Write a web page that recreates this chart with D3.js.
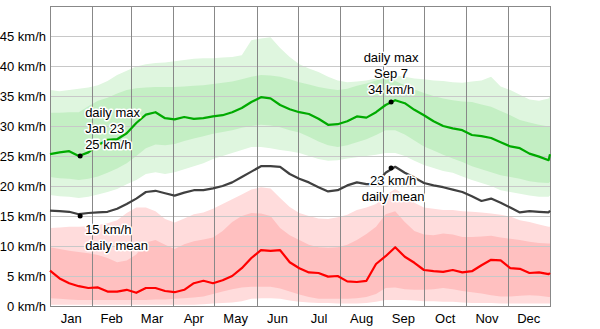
<!DOCTYPE html>
<html>
<head>
<meta charset="utf-8">
<script src="https://cdn.jsdelivr.net/npm/d3@7"></script>
<style>
  html, body { margin: 0; padding: 0; background: #fff; }
  svg { display: block; font-family: "Liberation Sans", Arial, sans-serif; font-size: 13px; }
  .halo { paint-order: stroke; stroke: #fff; stroke-width: 3px; stroke-linejoin: round; }
</style>
</head>
<body>
<svg id="chart" width="600" height="329"></svg>
<script>
'use strict'

// sampled every 7 days through the year, last point is Dec 31
var days = d3.range(0, 365, 7).concat([365])

var months = ['Jan', 'Feb', 'Mar', 'Apr', 'May', 'Jun', 'Jul', 'Aug', 'Sep', 'Oct', 'Nov', 'Dec']
var monthStarts = [0, 31, 59, 90, 120, 151, 181, 212, 243, 273, 304, 334, 365]
var yTicks = [0, 5, 10, 15, 20, 25, 30, 35, 40, 45]

// daily max wind speed (green)
var maxLine = [25.3, 25.6, 25.8, 25.0, 25.6, 26.8, 27.7, 27.8, 28.8, 30.5, 31.9, 32.3, 31.3, 31.1, 31.5, 31.2, 31.3, 31.6, 31.8, 32.3, 33.0, 34.0, 34.8, 34.6, 33.5, 32.8, 32.3, 32.0, 31.2, 30.2, 30.3, 30.8, 31.6, 31.4, 32.3, 33.5, 34.3, 33.8, 32.7, 31.8, 30.8, 30.0, 29.6, 29.3, 28.5, 28.3, 28.0, 27.3, 26.6, 26.3, 25.4, 24.9, 24.3, 25.3]
var maxP90 = [36.0, 35.8, 36.0, 36.2, 36.4, 36.8, 37.5, 38.5, 39.2, 39.9, 40.3, 40.5, 40.6, 40.8, 41.0, 41.2, 41.3, 41.3, 41.4, 41.5, 41.8, 44.3, 44.6, 44.8, 43.0, 41.5, 40.3, 39.6, 39.0, 38.2, 37.6, 37.3, 37.4, 37.6, 37.9, 38.2, 38.4, 38.2, 37.9, 37.8, 37.6, 37.5, 37.3, 37.2, 37.4, 37.6, 38.2, 36.6, 36.0, 35.2, 34.4, 34.2, 34.6, 35.0]
var maxP75 = [32.2, 32.2, 32.3, 32.3, 33.3, 34.2, 34.7, 35.4, 36.0, 36.3, 36.4, 36.5, 36.5, 36.5, 36.6, 36.7, 36.8, 37.0, 37.2, 37.4, 37.8, 38.2, 38.5, 38.4, 38.2, 37.8, 37.3, 36.9, 36.5, 36.2, 36.0, 36.2, 36.7, 37.1, 37.6, 38.0, 37.5, 36.8, 36.1, 35.5, 35.0, 34.6, 34.3, 34.1, 34.0, 33.6, 33.2, 32.5, 31.8, 31.0, 30.6, 30.2, 29.9, 29.8]
var maxP25 = [21.5, 21.3, 21.2, 21.0, 21.2, 21.6, 22.2, 22.9, 23.8, 25.0, 26.3, 26.9, 26.8, 27.0, 27.5, 27.9, 28.3, 28.7, 29.0, 29.3, 29.7, 30.0, 30.2, 30.1, 29.8, 29.3, 28.9, 28.2, 27.4, 26.8, 26.5, 26.8, 27.3, 27.8, 28.5, 29.3, 29.3, 28.6, 27.6, 26.6, 25.9, 25.2, 24.6, 24.0, 23.3, 22.8, 22.3, 21.8, 21.5, 21.2, 20.8, 20.6, 20.5, 20.7]
var maxP10 = [18.5, 18.3, 18.2, 18.0, 18.2, 18.6, 19.0, 19.5, 20.3, 21.0, 22.0, 22.3, 22.0, 22.3, 22.8, 23.3, 23.8, 24.5, 25.0, 25.5, 26.0, 26.5, 26.5, 26.3, 26.0, 25.8, 25.5, 25.0, 24.5, 24.2, 24.3, 24.6, 24.8, 25.0, 25.2, 25.5, 25.5, 25.0, 24.2, 23.5, 23.0, 22.5, 22.2, 21.6, 21.0, 20.5, 20.0, 19.3, 19.0, 18.7, 18.4, 18.2, 18.2, 18.4]

// daily mean wind speed (grey)
var meanLine = [15.9, 15.8, 15.7, 15.3, 15.5, 15.6, 15.7, 16.2, 17.0, 17.9, 19.0, 19.2, 18.8, 18.4, 18.9, 19.3, 19.3, 19.6, 20.0, 20.6, 21.5, 22.4, 23.3, 23.3, 23.2, 22.0, 21.2, 20.6, 19.8, 19.1, 19.3, 20.1, 20.6, 20.3, 20.3, 22.2, 23.2, 22.2, 21.4, 20.5, 20.1, 19.8, 19.4, 19.0, 18.3, 17.5, 17.9, 17.2, 16.4, 15.6, 15.8, 15.7, 15.6, 15.9]

// daily min wind speed (red)
var minLine = [5.9, 4.6, 3.8, 3.3, 3.0, 3.1, 2.4, 2.4, 2.7, 2.2, 3.0, 3.0, 2.5, 2.3, 2.7, 3.8, 4.2, 3.8, 4.3, 5.0, 6.3, 8.0, 9.3, 9.2, 9.3, 7.3, 6.3, 5.6, 5.5, 4.9, 5.0, 4.1, 4.0, 4.2, 7.0, 8.3, 9.8, 8.2, 7.2, 6.0, 5.8, 5.7, 6.0, 5.6, 5.8, 6.8, 7.7, 7.6, 6.3, 6.2, 5.5, 5.6, 5.3, 5.5]
var minP90 = [13.0, 13.1, 13.2, 13.2, 13.3, 13.5, 13.8, 14.3, 15.5, 16.4, 16.4, 15.8, 14.5, 13.9, 14.6, 15.3, 15.6, 16.2, 17.0, 17.8, 18.6, 19.4, 19.8, 19.6, 18.0, 16.5, 15.5, 15.0, 14.6, 14.5, 14.8, 15.2, 16.0, 16.4, 17.0, 18.5, 19.5, 18.5, 17.2, 16.4, 16.2, 16.0, 16.0, 15.8, 15.7, 15.6, 15.4, 15.2, 14.9, 14.3, 14.0, 13.6, 13.2, 13.2]
var minP75 = [9.8, 9.5, 9.2, 9.0, 8.8, 8.5, 8.0, 7.3, 7.6, 8.6, 10.6, 11.0, 10.2, 9.5, 10.3, 10.8, 11.1, 11.4, 12.5, 14.0, 15.0, 15.5, 15.4, 15.0, 13.0, 11.8, 11.0, 10.2, 9.8, 9.7, 9.8, 10.2, 11.0, 12.0, 13.2, 15.3, 15.8, 14.0, 12.5, 11.9, 11.8, 12.1, 11.9, 11.5, 11.5, 11.6, 11.7, 11.4, 11.2, 11.0, 10.7, 10.5, 10.4, 10.4]
var minP25 = [1.3, 1.2, 1.1, 1.0, 1.0, 1.0, 1.0, 1.0, 1.0, 1.0, 1.0, 1.1, 1.1, 1.2, 1.3, 1.4, 1.6, 2.0, 2.4, 2.8, 3.1, 3.2, 3.2, 3.2, 2.9, 2.4, 1.9, 1.5, 1.2, 1.2, 1.2, 1.2, 1.3, 1.5, 2.0, 3.0, 3.1, 2.8, 2.7, 2.7, 2.8, 3.0, 2.8, 2.5, 2.3, 2.1, 1.8, 1.6, 1.6, 1.7, 1.8, 1.7, 1.5, 1.5]
var minP10 = [0.2, 0.2, 0.2, 0.2, 0.2, 0.2, 0.2, 0.2, 0.2, 0.2, 0.2, 0.2, 0.2, 0.2, 0.2, 0.2, 0.3, 0.4, 0.5, 0.6, 0.8, 1.2, 1.3, 1.3, 1.2, 0.9, 0.7, 0.6, 0.5, 0.5, 0.4, 0.4, 0.4, 0.5, 0.7, 1.0, 1.0, 1.0, 0.9, 0.8, 0.8, 0.7, 0.7, 0.6, 0.5, 0.5, 0.5, 0.4, 0.4, 0.4, 0.4, 0.4, 0.4, 0.4]

// annotated points: day of year, value, label lines
var maxNotes = [
  { day: 22, value: 25, lines: ['daily max', 'Jan 23', '25 km/h'], anchor: 'start', dx: 5, dy: -39 },
  { day: 249, value: 34, lines: ['daily max', 'Sep 7', '34 km/h'], anchor: 'middle', dx: 0, dy: -40 }
]
var meanNotes = [
  { day: 22, value: 15, lines: ['15 km/h', 'daily mean'], anchor: 'start', dx: 5, dy: 18 },
  { day: 249, value: 23, lines: ['23 km/h', 'daily mean'], anchor: 'middle', dx: 2, dy: 17 }
]

var margin = { top: 6, right: 50, bottom: 23, left: 50 }
var svg = d3.select('#chart')
var width = +svg.attr('width') - margin.left - margin.right
var height = +svg.attr('height') - margin.top - margin.bottom

var x = d3.scaleLinear().domain([0, 365]).range([margin.left, margin.left + width])
var y = d3.scaleLinear().domain([0, 50]).range([margin.top + height, margin.top])

function band (lo, hi) {
  return d3.area()
    .x((d, i) => x(days[i]))
    .y0((d, i) => y(lo[i]))
    .y1((d, i) => y(hi[i]))(days)
}

function line (vals) {
  return d3.line()
    .x((d, i) => x(days[i]))
    .y((d) => y(d))(vals)
}

var plot = svg.append('g')

plot.append('path').attr('d', band(maxP10, maxP90)).attr('fill', '#dff6df')
plot.append('path').attr('d', band(maxP25, maxP75)).attr('fill', '#c4efc4')
plot.append('path').attr('d', band(minP10, minP90)).attr('fill', '#ffdcdc')
plot.append('path').attr('d', band(minP25, minP75)).attr('fill', '#ffc0c0')

// horizontal grid
plot.append('g')
  .selectAll('line')
  .data(yTicks.slice(1))
  .enter().append('line')
    .attr('x1', margin.left)
    .attr('x2', margin.left + width)
    .attr('y1', (d) => y(d) + 0.5)
    .attr('y2', (d) => y(d) + 0.5)
    .attr('stroke', '#c8c8c8')

// month lines
plot.append('g')
  .selectAll('line')
  .data(monthStarts.slice(1, -1))
  .enter().append('line')
    .attr('x1', (d) => Math.round(x(d)) + 0.5)
    .attr('x2', (d) => Math.round(x(d)) + 0.5)
    .attr('y1', margin.top)
    .attr('y2', margin.top + height)
    .attr('stroke', '#888')

plot.append('rect')
  .attr('x', margin.left + 0.5)
  .attr('y', margin.top + 0.5)
  .attr('width', width)
  .attr('height', height)
  .attr('fill', 'none')
  .attr('stroke', '#888')

// series lines
plot.append('path').attr('d', line(minLine))
  .attr('fill', 'none').attr('stroke', '#ff0000').attr('stroke-width', 2.2).attr('stroke-linejoin', 'round')
plot.append('path').attr('d', line(meanLine))
  .attr('fill', 'none').attr('stroke', '#404040').attr('stroke-width', 2.2).attr('stroke-linejoin', 'round')
plot.append('path').attr('d', line(maxLine))
  .attr('fill', 'none').attr('stroke', '#00aa00').attr('stroke-width', 2.2).attr('stroke-linejoin', 'round')

// y axis labels
svg.append('g')
  .selectAll('text')
  .data(yTicks)
  .enter().append('text')
    .attr('x', margin.left - 4)
    .attr('y', (d) => y(d))
    .attr('dy', '0.35em')
    .attr('text-anchor', 'end')
    .attr('fill', '#000')
    .text((d) => d + ' km/h')

// month labels, centred in each month
svg.append('g')
  .selectAll('text')
  .data(months)
  .enter().append('text')
    .attr('x', (d, i) => x((monthStarts[i] + monthStarts[i + 1]) / 2))
    .attr('y', margin.top + height + 17)
    .attr('text-anchor', 'middle')
    .attr('fill', '#000')
    .text((d) => d)

function annotate (notes) {
  var g = svg.append('g')
  notes.forEach((n) => {
    var px = x(n.day)
    var py = y(n.value)
    var t = g.append('text')
      .attr('class', 'halo')
      .attr('text-anchor', n.anchor)
      .attr('fill', '#000')
    n.lines.forEach((s, i) => {
      t.append('tspan')
        .attr('x', px + n.dx)
        .attr('y', py + n.dy + i * 16)
        .text(s)
    })
    g.append('circle')
      .attr('cx', px)
      .attr('cy', py)
      .attr('r', 2.5)
      .attr('fill', '#000')
  })
}

annotate(maxNotes)
annotate(meanNotes)
</script>
</body>
</html>
